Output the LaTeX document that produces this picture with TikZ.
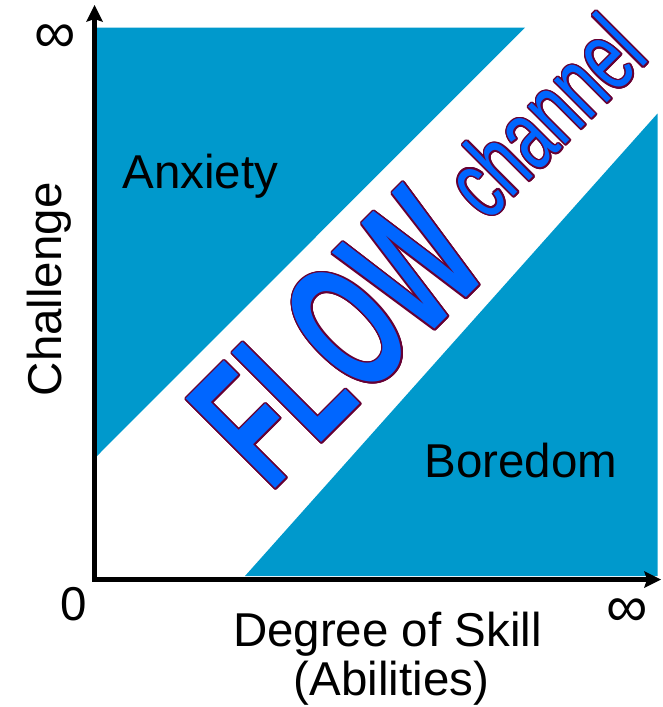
\documentclass[tikz,border=0pt]{standalone}
\usepackage{fontspec}
\usepackage{graphicx}
\setmainfont{Liberation Sans}
\usetikzlibrary{arrows.meta}

\definecolor{zone}{RGB}{0,153,204}
\definecolor{flowblue}{RGB}{0,102,255}
\definecolor{rim}{RGB}{102,0,51}

\tikzset{
  label text/.style={font=\fontsize{47.5}{57}\selectfont, inner sep=0pt, text=black},
  infinity/.style={font=\fontsize{58}{60}\selectfont, inner sep=0pt, text=black},
  axis line/.style={line width=5.5pt, line join=miter,
    {Stealth[length=17pt,width=17pt,inset=3pt,line width=0pt]}-{Stealth[length=17pt,width=17pt,inset=3pt,line width=0pt]}},
  big word/.style={rotate=45, inner sep=0pt},
}

% outlined word: rim-coloured copies around the spot, blue copy on top
\newcommand\rimword[3]{%
  \foreach \a [count=\i] in {0,22.5,...,337.5}
    \node[big word, text=rim] (#1-rim\i) at ([shift={(\a:1.6)}]#2) {#3};
  \node[big word, text=flowblue] (#1) at (#2) {#3};
}

\begin{document}
\begin{tikzpicture}[x=1pt,y=-1pt]
  \useasboundingbox (0,0) rectangle (662,707);

  % anxiety and boredom zones
  \fill[zone] (94.5,27.5) -- (525,27.5) -- (94.5,458.5) -- cycle;
  \fill[zone] (245,576) -- (657.5,576) -- (657.5,113.5) -- cycle;

  % channel lettering
  \coordinate (flowc) at (337,338);
  \coordinate (chanc) at (544,116);
  \rimword{flow}{flowc}{\scalebox{0.58}[1]{\fontsize{184}{200}\bfseries\selectfont FLOW}}
  \rimword{chan}{chanc}{\scalebox{0.66}[1]{\fontsize{100}{110}\selectfont channel}}

  % axes
  \coordinate (O) at (94.5,579.5);
  \coordinate (ytip) at (94.5,5);
  \coordinate (xtip) at (661,579.5);
  \draw[axis line] (ytip) -- (O) -- (xtip);

  % labels
  \node[label text, anchor=base] (anx) at (200.4,188.5) {Anxiety};
  \node[label text, anchor=base] (bor) at (521,477.7) {Boredom};
  \node[label text, anchor=base, rotate=90] (chal) at (61.5,289.3) {Challenge};
  \node[label text, anchor=base] (zero) at (74,620.7) {0};
  \node[infinity] (infx) at (627.5,613) {∞};
  \node[infinity] (infy) at (55,39) {∞};
  \node[label text, anchor=base] (skill) at (387.5,646) {Degree of Skill};
  \node[label text, anchor=base] (abil) at (391.5,695) {(Abilities)};
\end{tikzpicture}
\end{document}
